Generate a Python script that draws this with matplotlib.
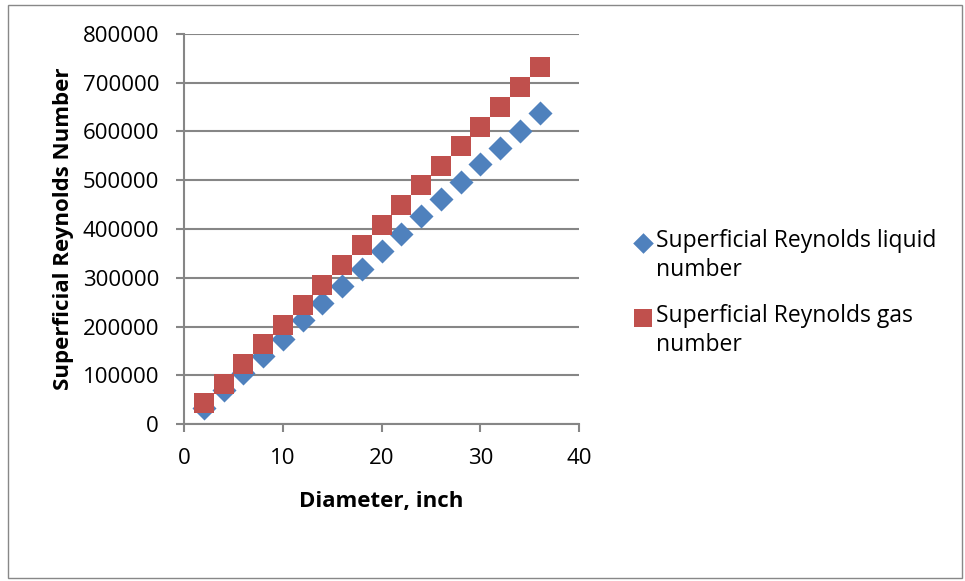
import matplotlib.pyplot as plt
from matplotlib.patches import Rectangle

# pipe diameter, inch
diameter = [2, 4, 6, 8, 10, 12, 14, 16, 18, 20, 22, 24, 26, 28, 30, 32, 34, 36]

# superficial Reynolds numbers
re_liquid = [32100, 69600, 105100, 139200, 175400, 213000, 248500, 283300, 318800,
             354300, 389800, 425900, 461400, 496200, 532400, 566600, 602000, 637500]
re_gas = [42300, 81900, 122900, 163800, 204100, 245100, 286000, 325600, 366600,
          407500, 448500, 489400, 529700, 570000, 610200, 651200, 692200, 733100]

labels = ["Superficial Reynolds liquid\nnumber", "Superficial Reynolds gas\nnumber"]

plt.rcParams['font.family'] = ['Open Sans', 'DejaVu Sans']

fig = plt.figure(figsize=(9.65, 5.81), dpi=100)
ax = fig.add_axes([0.1907, 0.2702, 0.4093, 0.6713])

grid_col = '#868686'
ax.scatter(diameter, re_liquid, marker='D', s=150, color='#4F81BD', lw=0,
           label=labels[0], zorder=3)
ax.scatter(diameter, re_gas, marker='s', s=210, color='#C0504D', lw=0,
           label=labels[1], zorder=4)

ax.set_xlim(0, 40)
ax.set_ylim(0, 800000)
ax.set_xticks(range(0, 41, 10))
ax.set_yticks(range(0, 800001, 100000))
ax.yaxis.grid(True, color=grid_col, lw=1.5)
ax.set_axisbelow(True)
for s in ['top', 'right']:
    ax.spines[s].set_visible(False)
for s in ['left', 'bottom']:
    ax.spines[s].set_color(grid_col)
    ax.spines[s].set_linewidth(1.5)
ax.tick_params(axis='both', direction='out', length=6, width=1.5, color=grid_col,
               labelsize=16)
ax.tick_params(axis='y', pad=12)
ax.tick_params(axis='x', pad=11)

ax.set_xlabel('Diameter, inch', fontsize=16, fontweight='bold', labelpad=16)
ax.set_ylabel('Superficial Reynolds Number', fontsize=16, fontweight='bold', labelpad=6)

leg = ax.legend(loc='upper left', bbox_to_anchor=(1.103, 0.524), frameon=False,
                fontsize=16.5, handletextpad=0.0, labelspacing=0.95,
                handlelength=1.2, borderaxespad=0)
for t in leg.get_texts():
    t.set_linespacing(1.3)
# put each marker beside the first line of its label
for h in leg.legend_handles:
    off = h.get_offsets()
    off[:, 1] += 11
    h.set_offsets(off)
leg.legend_handles[0].set_sizes([110])
leg.legend_handles[1].set_sizes([150])

fig.patches.append(Rectangle((0.008, 0.006), 0.989, 0.985, transform=fig.transFigure,
                             fill=False, edgecolor='#888888', lw=1.0))

fig.savefig('out.png', dpi=100)
